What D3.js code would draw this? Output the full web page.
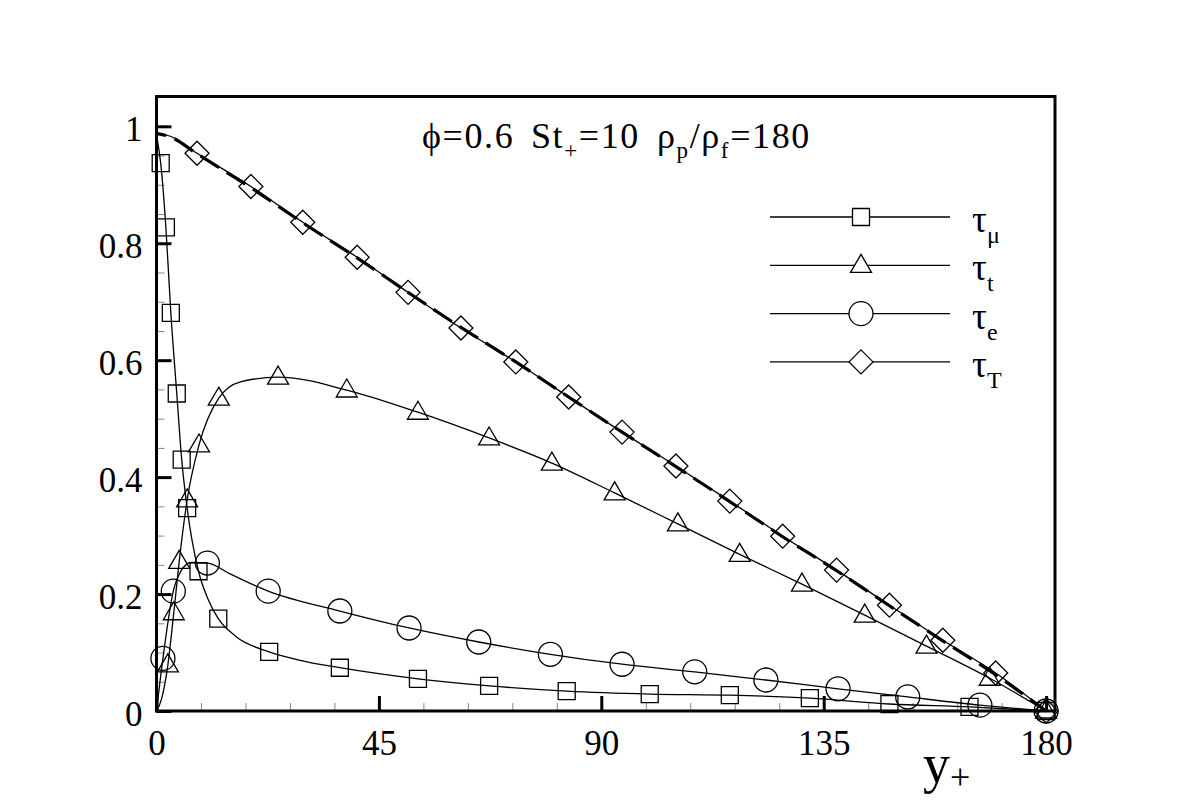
<!DOCTYPE html>
<html>
<head>
<meta charset="utf-8">
<script src="https://cdn.jsdelivr.net/npm/d3@7"></script>
<style>
  html, body { margin: 0; padding: 0; background: #fff; }
  svg { display: block; }
  text { font-family: "Liberation Serif", "Times New Roman", "DejaVu Serif", serif; fill: #000; }
</style>
</head>
<body>
<svg id="chart" width="1200" height="800"></svg>
<script>
// ---------------- data ----------------
const xMajorTicks = [0, 45, 90, 135, 180];
const xMinorTicks = [9, 18, 27, 36, 54, 63, 72, 81, 99, 108, 117, 126, 144, 153, 162, 171];
const yMajorTicks = [0, 0.2, 0.4, 0.6, 0.8, 1];
const yMajorLabels = ["0", "0.2", "0.4", "0.6", "0.8", "1"];
const yMinorTicks = [0.05, 0.1, 0.15, 0.25, 0.3, 0.35, 0.45, 0.5, 0.55, 0.65, 0.7, 0.75, 0.85, 0.9, 0.95];

// tau_mu (viscous) — curve and markers
const muLineX = [0, 0.85, 1.9, 2.9, 4.1, 5.1, 6.2, 8.5, 10.5, 12.5, 16, 22.8, 30, 37.1, 52.9, 67.3, 83.0, 99.8, 116.0, 132.2, 148.3, 164.5, 180];
const muLineY = [0.985, 0.937, 0.827, 0.681, 0.543, 0.430, 0.347, 0.239, 0.190, 0.158, 0.128, 0.101, 0.085, 0.074, 0.055, 0.043, 0.034, 0.029, 0.027, 0.022, 0.012, 0.007, 0];
const muMarkX = [0.85, 1.9, 2.9, 4.1, 5.1, 6.2, 8.5, 12.5, 22.8, 37.1, 52.9, 67.3, 83.0, 99.8, 116.0, 132.2, 148.3, 164.5, 180];
const muMarkY = [0.937, 0.827, 0.681, 0.543, 0.430, 0.347, 0.239, 0.158, 0.101, 0.074, 0.055, 0.043, 0.034, 0.029, 0.027, 0.022, 0.012, 0.007, 0];

// tau_t (turbulent)
const tLineX = [0, 1, 2.3, 3.5, 4.6, 6.2, 8.6, 12.6, 17, 24.6, 38.5, 52.9, 67.3, 80.0, 92.7, 105.5, 118.0, 130.6, 143.3, 155.8, 168.6, 180];
const tLineY = [0, 0.02, 0.079, 0.168, 0.256, 0.361, 0.455, 0.535, 0.563, 0.571, 0.549, 0.511, 0.467, 0.424, 0.373, 0.320, 0.268, 0.217, 0.164, 0.111, 0.056, 0];
const tMarkX = [2.3, 3.5, 4.6, 6.2, 8.6, 12.6, 24.6, 38.5, 52.9, 67.3, 80.0, 92.7, 105.5, 118.0, 130.6, 143.3, 155.8, 168.6, 180];
const tMarkY = [0.079, 0.168, 0.256, 0.361, 0.455, 0.535, 0.571, 0.549, 0.511, 0.467, 0.424, 0.373, 0.320, 0.268, 0.217, 0.164, 0.111, 0.056, 0];

// tau_e (particle)
const eLineX = [0, 1.3, 3.4, 5, 7, 10.3, 15, 22.6, 37.1, 51.1, 65.2, 79.7, 94.2, 108.9, 123.3, 137.9, 152.0, 166.6, 180];
const eLineY = [0, 0.090, 0.205, 0.240, 0.254, 0.253, 0.234, 0.205, 0.171, 0.142, 0.118, 0.097, 0.080, 0.067, 0.053, 0.038, 0.024, 0.010, 0];
const eMarkX = [1.3, 3.4, 10.3, 22.6, 37.1, 51.1, 65.2, 79.7, 94.2, 108.9, 123.3, 137.9, 152.0, 166.6, 180];
const eMarkY = [0.090, 0.205, 0.253, 0.205, 0.171, 0.142, 0.118, 0.097, 0.080, 0.067, 0.053, 0.038, 0.024, 0.010, 0];

// tau_T (total)
const TLineX = [0, 2.8, 8.2, 19.1, 29.6, 40.6, 50.9, 61.6, 72.7, 83.4, 94.2, 105.1, 116.0, 126.7, 137.6, 148.3, 159.1, 169.8, 180];
const TLineY = [0.988, 0.983, 0.954, 0.897, 0.836, 0.776, 0.716, 0.655, 0.597, 0.537, 0.477, 0.419, 0.359, 0.299, 0.241, 0.181, 0.121, 0.065, 0];
const TMarkX = [8.2, 19.1, 29.6, 40.6, 50.9, 61.6, 72.7, 83.4, 94.2, 105.1, 116.0, 126.7, 137.6, 148.3, 159.1, 169.8, 180];
const TMarkY = [0.954, 0.897, 0.836, 0.776, 0.716, 0.655, 0.597, 0.537, 0.477, 0.419, 0.359, 0.299, 0.241, 0.181, 0.121, 0.065, 0];

// dashed reference curve (total stress balance), overlapping tau_T
const refX = [0, 2.8, 8.2, 19.1, 29.6, 40.6, 50.9, 61.6, 72.7, 83.4, 94.2, 105.1, 116.0, 126.7, 137.6, 148.3, 159.1, 169.8, 180];
const refY = [0.988, 0.982, 0.953, 0.895, 0.835, 0.775, 0.716, 0.656, 0.597, 0.537, 0.477, 0.418, 0.358, 0.298, 0.240, 0.180, 0.120, 0.062, 0];

const legendNames = ["μ", "t", "e", "T"];
const legendShapes = ["square", "triangle", "circle", "diamond"];
const titleParts = [
  { x: 422, parts: [["ϕ=0.6", 0]] },
  { x: 531, parts: [["St", 0], ["+", 1], ["=10", 0]] },
  { x: 657, parts: [["ρ", 0], ["p", 1], ["/ρ", 0], ["f", 1], ["=180", 0]] }
];

// ---------------- drawing ----------------
const FONT = '"Liberation Serif", "Times New Roman", "DejaVu Serif", serif';
const svg = d3.select("#chart");
svg.append("rect").attr("width", 1200).attr("height", 800).attr("fill", "#fff");

const L = 156.5, R = 1055, T = 96.5, B = 711;
const x = d3.scaleLinear().domain([0, 181.8]).range([L, R]);
const y = d3.scaleLinear().domain([0, 1.051]).range([B, T]);

// minor ticks
const gxm = svg.append("g").attr("transform", `translate(0,${B})`)
  .call(d3.axisBottom(x).tickValues(xMinorTicks).tickSize(-8).tickFormat(""));
const gym = svg.append("g").attr("transform", `translate(${L},0)`)
  .call(d3.axisLeft(y).tickValues(yMinorTicks).tickSize(-8).tickFormat(""));
[gxm, gym].forEach(g => {
  g.select(".domain").remove();
  g.selectAll(".tick line").attr("stroke", "#888").attr("stroke-width", 1);
});

// major ticks
const gx = svg.append("g").attr("transform", `translate(0,${B})`)
  .call(d3.axisBottom(x).tickValues(xMajorTicks).tickSize(-15).tickPadding(19).tickFormat(d3.format("d")));
const gy = svg.append("g").attr("transform", `translate(${L},0)`)
  .call(d3.axisLeft(y).tickValues(yMajorTicks).tickSize(-15).tickPadding(14)
    .tickFormat((d, i) => yMajorLabels[i]));
[gx, gy].forEach(g => {
  g.attr("font-family", FONT).attr("font-size", 35);
  g.select(".domain").remove();
  g.selectAll(".tick line").attr("stroke", "#000").attr("stroke-width", 3);
  g.selectAll(".tick text").style("font-family", FONT).style("font-size", "35px").attr("fill", "#000");
});
gy.selectAll(".tick text").attr("dy", "0.41em");

// frame
svg.append("rect").attr("x", L).attr("y", T).attr("width", R - L).attr("height", B - T)
  .attr("fill", "none").attr("stroke", "#000").attr("stroke-width", 3);

// lines
const line = d3.line().x(d => x(d[0])).y(d => y(d[1])).curve(d3.curveMonotoneX);
const zip = (a, b) => a.map((v, i) => [v, b[i]]);

const plot = svg.append("g");
plot.append("path").datum(zip(refX, refY)).attr("d", line)
  .attr("fill", "none").attr("stroke", "#000").attr("stroke-width", 3.2)
  .attr("stroke-dasharray", "22,9").attr("stroke-dashoffset", 12);

[[muLineX, muLineY], [tLineX, tLineY], [eLineX, eLineY], [TLineX, TLineY]].forEach(([lx, ly]) => {
  plot.append("path").datum(zip(lx, ly)).attr("d", line)
    .attr("fill", "none").attr("stroke", "#000").attr("stroke-width", 1.3);
});

function markerPath(shape) {
  const p = d3.path();
  if (shape === "square") { p.rect(-8.5, -8.5, 17, 17); }
  else if (shape === "triangle") { p.moveTo(0, -11); p.lineTo(10.5, 7); p.lineTo(-10.5, 7); p.closePath(); }
  else if (shape === "circle") { p.moveTo(12, 0); p.arc(0, 0, 12, 0, Math.PI * 2); p.closePath(); }
  else if (shape === "diamond") { p.moveTo(0, -12); p.lineTo(12, 0); p.lineTo(0, 12); p.lineTo(-12, 0); p.closePath(); }
  return p.toString();
}

const markerSets = [
  ["square", muMarkX, muMarkY],
  ["triangle", tMarkX, tMarkY],
  ["circle", eMarkX, eMarkY],
  ["diamond", TMarkX, TMarkY]
];
markerSets.forEach(([shape, mx, my]) => {
  plot.append("g").selectAll("path").data(zip(mx, my)).join("path")
    .attr("transform", d => `translate(${x(d[0])},${y(d[1])})`)
    .attr("d", markerPath(shape))
    .attr("fill", "none").attr("stroke", "#000").attr("stroke-width", 1.3);
});

// legend
const leg = svg.append("g");
const legY0 = 217, legDy = 48.3;
legendNames.forEach((nm, i) => {
  const ly = legY0 + i * legDy;
  leg.append("line").attr("x1", 770).attr("x2", 950).attr("y1", ly).attr("y2", ly)
    .attr("stroke", "#000").attr("stroke-width", 1.3);
  leg.append("path").attr("transform", `translate(861,${ly})`).attr("d", markerPath(legendShapes[i]))
    .attr("fill", "#fff").attr("stroke", "#000").attr("stroke-width", 1.3);
  const t = leg.append("text").attr("x", 972).attr("y", ly + 15).style("font-size", "37px");
  t.append("tspan").text("τ");
  t.append("tspan").attr("dy", 11).style("font-size", "24px").text(nm);
});

// title
titleParts.forEach(seg => {
  const t = svg.append("text").attr("x", seg.x).attr("y", 148).style("font-size", "36px")
    .style("letter-spacing", "1.6px");
  let sub = 0;
  seg.parts.forEach(([txt, s]) => {
    const dy = (s - sub) * 10;
    const ts = t.append("tspan").attr("dy", dy).text(txt);
    if (s) ts.style("font-size", "23px");
    sub = s;
  });
});

// x axis title
const xt = svg.append("text").attr("x", 923).attr("y", 782).style("font-size", "54px");
xt.append("tspan").text("y");
xt.append("tspan").attr("dy", 7).style("font-size", "36px").text("+");
</script>
</body>
</html>
